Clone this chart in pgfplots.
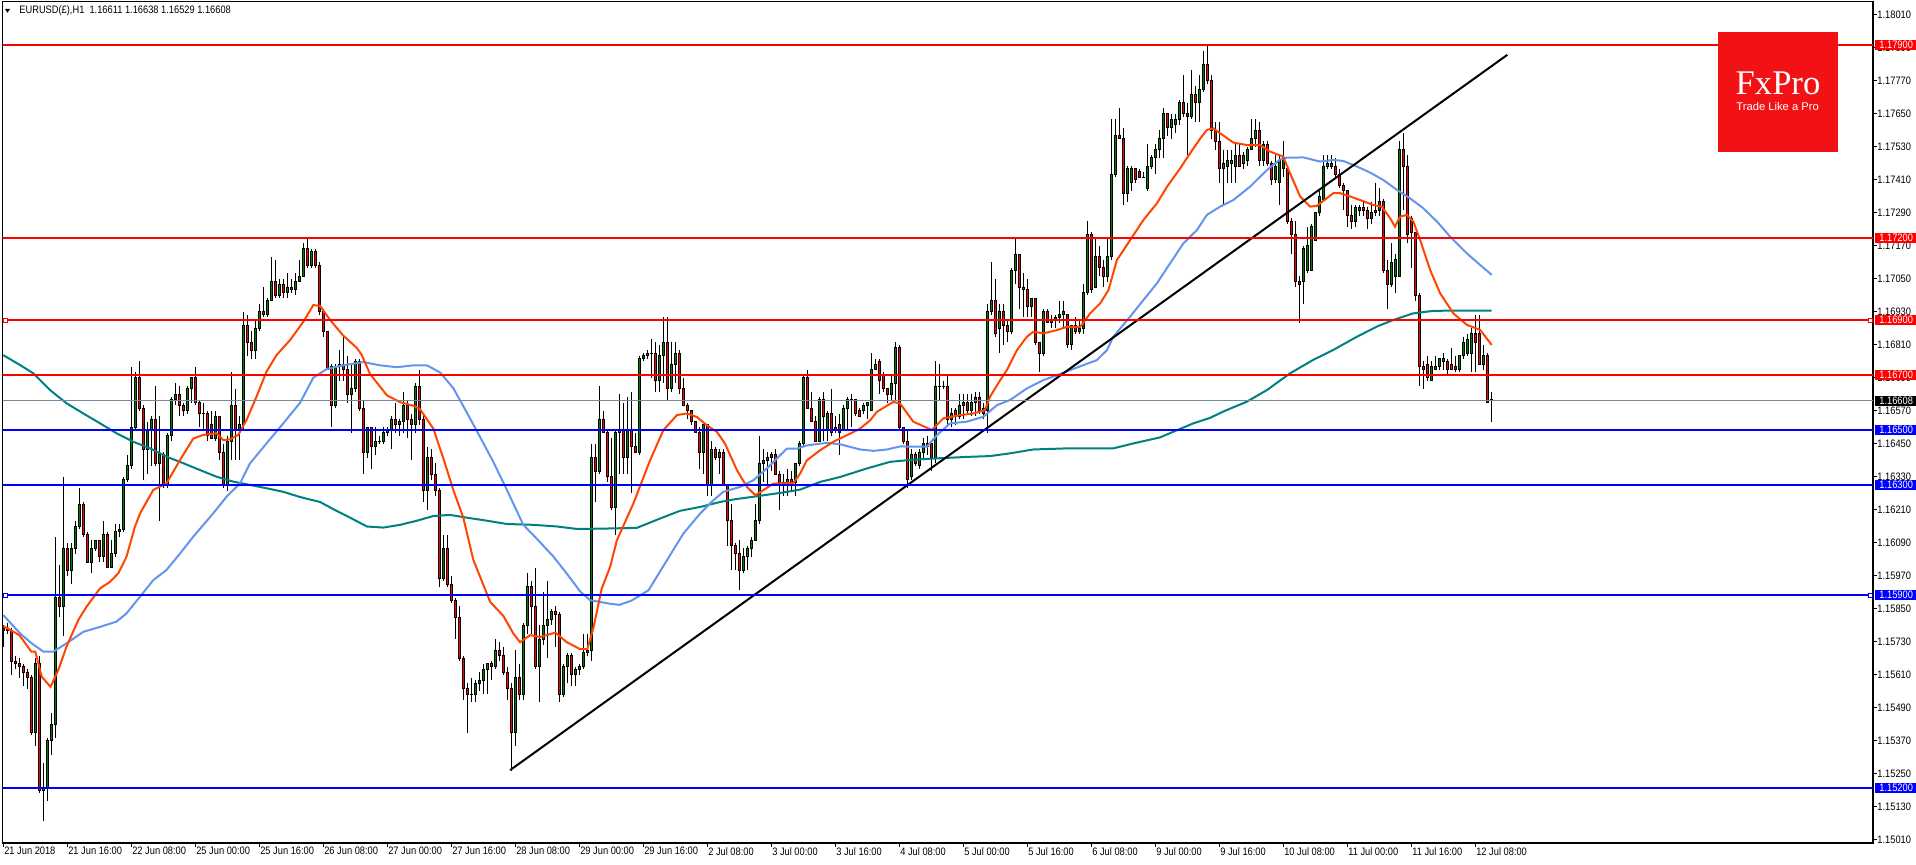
\documentclass[border=0pt]{standalone}
\usepackage{pgfplots}
\pgfplotsset{compat=1.18}
\usepackage{pgfplotstable}
\usepackage{fontspec}
\setmainfont{Liberation Sans}[FakeStretch=0.86]
\newfontfamily\logoserif{Liberation Serif}
\newfontfamily\logosans{Liberation Sans}
\newcommand\tickfont{\fontsize{5.4}{6}\selectfont}
\definecolor{maRed}{RGB}{255,69,0}
\definecolor{maBlue}{RGB}{100,149,237}
\definecolor{maTeal}{RGB}{0,128,128}
\definecolor{cGreen}{RGB}{0,128,0}
\definecolor{cRed}{RGB}{255,0,0}
\definecolor{lvlRed}{RGB}{255,0,0}
\definecolor{lvlBlue}{RGB}{0,0,255}
\definecolor{curGray}{RGB}{119,136,153}
\definecolor{fxRed}{RGB}{242,18,22}

\pgfplotstableread{
i o h l c
0 1.1577 1.1579 1.1571 1.1578
1 1.1578 1.1580 1.1576 1.1577
2 1.1577 1.1578 1.1561 1.1566
3 1.1566 1.1568 1.1563 1.1565
4 1.1565 1.1567 1.1560 1.1564
5 1.1564 1.1565 1.1557 1.1562
6 1.1562 1.1563 1.1556 1.1560
7 1.1560 1.1561 1.1539 1.1540
8 1.1540 1.1567 1.1535 1.1565
9 1.1565 1.1568 1.1518 1.1519
10 1.1519 1.1529 1.1508 1.1520
11 1.1520 1.1538 1.1515 1.1537
12 1.1537 1.1547 1.1532 1.1543
13 1.1543 1.1611 1.1538 1.1589
14 1.1589 1.1601 1.1582 1.1586
15 1.1586 1.1633 1.1575 1.1607
16 1.1607 1.1609 1.1597 1.1599
17 1.1599 1.1609 1.1594 1.1607
18 1.1607 1.1617 1.1605 1.1615
19 1.1615 1.1629 1.1614 1.1623
20 1.1623 1.1624 1.1611 1.1612
21 1.1612 1.1613 1.1602 1.1602
22 1.1602 1.1610 1.1598 1.1607
23 1.1607 1.1610 1.1606 1.1610
24 1.1610 1.1610 1.1602 1.1604
25 1.1604 1.1617 1.1602 1.1612
26 1.1612 1.1613 1.1600 1.1600
27 1.1600 1.1610 1.1600 1.1605
28 1.1605 1.1616 1.1604 1.1613
29 1.1613 1.1616 1.1611 1.1614
30 1.1614 1.1633 1.1613 1.1632
31 1.1632 1.1641 1.1631 1.1637
32 1.1637 1.1673 1.1636 1.1651
33 1.1651 1.1671 1.1650 1.1669
34 1.1669 1.1675 1.1657 1.1658
35 1.1658 1.1659 1.1632 1.1643
36 1.1643 1.1653 1.1634 1.1650
37 1.1650 1.1655 1.1637 1.1654
38 1.1654 1.1666 1.1637 1.1638
39 1.1638 1.1655 1.1617 1.1641
40 1.1641 1.1642 1.1629 1.1630
41 1.1630 1.1649 1.1629 1.1648
42 1.1648 1.1662 1.1646 1.1661
43 1.1661 1.1667 1.1659 1.1663
44 1.1663 1.1666 1.1655 1.1659
45 1.1659 1.1660 1.1655 1.1657
46 1.1657 1.1666 1.1656 1.1665
47 1.1665 1.1669 1.1660 1.1669
48 1.1669 1.1673 1.1659 1.1660
49 1.1660 1.1661 1.1651 1.1656
50 1.1656 1.1660 1.1650 1.1656
51 1.1656 1.1657 1.1646 1.1648
52 1.1652 1.1657 1.1647 1.1647
53 1.1647 1.1657 1.1646 1.1655
54 1.1655 1.1655 1.1639 1.1642
55 1.1642 1.1645 1.1629 1.1630
56 1.1630 1.1648 1.1628 1.1646
57 1.1646 1.1671 1.1639 1.1659
58 1.1659 1.1665 1.1639 1.1650
59 1.1650 1.1655 1.1639 1.1652
60 1.1652 1.1693 1.1650 1.1688
61 1.1688 1.1692 1.1677 1.1682
62 1.1682 1.1686 1.1676 1.1679
63 1.1679 1.1690 1.1676 1.1687
64 1.1687 1.1696 1.1686 1.1693
65 1.1693 1.1702 1.1691 1.1692
66 1.1692 1.1698 1.1691 1.1697
67 1.1697 1.1713 1.1697 1.1704
68 1.1704 1.1712 1.1698 1.1699
69 1.1699 1.1705 1.1698 1.1703
70 1.1703 1.1705 1.1698 1.1700
71 1.1700 1.1707 1.1698 1.1702
72 1.1702 1.1705 1.1700 1.1701
73 1.1701 1.1707 1.1699 1.1704
74 1.1704 1.1712 1.1704 1.1706
75 1.1706 1.1718 1.1706 1.1716
76 1.1716 1.1720 1.1709 1.1710
77 1.1710 1.1716 1.1709 1.1715
78 1.1715 1.1716 1.1709 1.1710
79 1.1710 1.1711 1.1692 1.1693
80 1.1693 1.1694 1.1684 1.1686
81 1.1686 1.1686 1.1672 1.1672
82 1.1673 1.1674 1.1651 1.1659
83 1.1659 1.1674 1.1658 1.1673
84 1.1673 1.1679 1.1668 1.1674
85 1.1674 1.1684 1.1668 1.1672
86 1.1672 1.1677 1.1660 1.1663
87 1.1663 1.1674 1.1649 1.1665
88 1.1665 1.1676 1.1664 1.1675
89 1.1675 1.1676 1.1657 1.1658
90 1.1658 1.1661 1.1634 1.1642
91 1.1642 1.1651 1.1640 1.1651
92 1.1651 1.1651 1.1636 1.1644
93 1.1644 1.1651 1.1641 1.1646
94 1.1646 1.1648 1.1645 1.1646
95 1.1646 1.1651 1.1645 1.1649
96 1.1649 1.1651 1.1648 1.1650
97 1.1650 1.1655 1.1643 1.1654
98 1.1654 1.1660 1.1649 1.1652
99 1.1652 1.1654 1.1648 1.1653
100 1.1653 1.1664 1.1649 1.1659
101 1.1659 1.1661 1.1647 1.1654
102 1.1654 1.1656 1.1639 1.1652
103 1.1652 1.1667 1.1649 1.1666
104 1.1666 1.1672 1.1652 1.1654
105 1.1654 1.1656 1.1624 1.1628
106 1.1628 1.1644 1.1621 1.1640
107 1.1640 1.1643 1.1632 1.1634
108 1.1634 1.1638 1.1626 1.1628
109 1.1628 1.1629 1.1593 1.1596
110 1.1596 1.1612 1.1595 1.1607
111 1.1607 1.1612 1.1593 1.1594
112 1.1594 1.1597 1.1587 1.1588
113 1.1588 1.1589 1.1574 1.1582
114 1.1582 1.1586 1.1566 1.1567
115 1.1567 1.1568 1.1552 1.1556
116 1.1556 1.1558 1.1540 1.1554
117 1.1554 1.1560 1.1551 1.1554
118 1.1554 1.1559 1.1551 1.1558
119 1.1558 1.1562 1.1555 1.1559
120 1.1559 1.1565 1.1554 1.1563
121 1.1563 1.1565 1.1554 1.1565
122 1.1565 1.1566 1.1559 1.1564
123 1.1564 1.1574 1.1563 1.1570
124 1.1570 1.1573 1.1566 1.1568
125 1.1568 1.1571 1.1561 1.1562
126 1.1562 1.1564 1.1552 1.1556
127 1.1556 1.1558 1.1526 1.1540
128 1.1540 1.1570 1.1535 1.1560
129 1.1560 1.1565 1.1552 1.1554
130 1.1554 1.1580 1.1552 1.1579
131 1.1579 1.1598 1.1576 1.1593
132 1.1593 1.1595 1.1576 1.1586
133 1.1586 1.1600 1.1563 1.1564
134 1.1564 1.1579 1.1551 1.1574
135 1.1574 1.1591 1.1572 1.1579
136 1.1579 1.1595 1.1567 1.1581
137 1.1581 1.1585 1.1579 1.1584
138 1.1584 1.1586 1.1571 1.1583
139 1.1583 1.1584 1.1551 1.1554
140 1.1554 1.1565 1.1553 1.1564
141 1.1564 1.1569 1.1558 1.1568
142 1.1568 1.1569 1.1557 1.1561
143 1.1561 1.1564 1.1557 1.1563
144 1.1563 1.1565 1.1561 1.1564
145 1.1564 1.1576 1.1563 1.1569
146 1.1569 1.1576 1.1568 1.1570
147 1.1570 1.1645 1.1566 1.1640
148 1.1640 1.1645 1.1624 1.1635
149 1.1635 1.1666 1.1634 1.1654
150 1.1654 1.1657 1.1649 1.1649
151 1.1649 1.1650 1.1631 1.1633
152 1.1633 1.1647 1.1621 1.1622
153 1.1622 1.1650 1.1612 1.1649
154 1.1649 1.1663 1.1634 1.1650
155 1.1650 1.1660 1.1634 1.1640
156 1.1640 1.1662 1.1634 1.1650
157 1.1650 1.1664 1.1627 1.1644
158 1.1644 1.1649 1.1642 1.1642
159 1.1642 1.1677 1.1641 1.1676
160 1.1676 1.1678 1.1675 1.1677
161 1.1677 1.1679 1.1676 1.1678
162 1.1678 1.1683 1.1669 1.1678
163 1.1678 1.1682 1.1664 1.1668
164 1.1668 1.1681 1.1664 1.1677
165 1.1677 1.1691 1.1667 1.1682
166 1.1682 1.1691 1.1661 1.1665
167 1.1665 1.1682 1.1664 1.1674
168 1.1674 1.1682 1.1667 1.1678
169 1.1678 1.1679 1.1663 1.1665
170 1.1665 1.1669 1.1659 1.1659
171 1.1659 1.1660 1.1654 1.1657
172 1.1657 1.1657 1.1652 1.1653
173 1.1653 1.1653 1.1649 1.1649
174 1.1649 1.1651 1.1636 1.1642
175 1.1642 1.1652 1.1634 1.1652
176 1.1652 1.1652 1.1626 1.1630
177 1.1630 1.1646 1.1626 1.1643
178 1.1643 1.1644 1.1639 1.1640
179 1.1640 1.1643 1.1634 1.1642
180 1.1642 1.1643 1.1630 1.1630
181 1.1630 1.1630 1.1608 1.1617
182 1.1617 1.1623 1.1599 1.1608
183 1.1608 1.1609 1.1599 1.1605
184 1.1605 1.1610 1.1592 1.1599
185 1.1599 1.1607 1.1598 1.1604
186 1.1604 1.1608 1.1599 1.1607
187 1.1607 1.1611 1.1604 1.1610
188 1.1610 1.1623 1.1610 1.1617
189 1.1617 1.1648 1.1616 1.1638
190 1.1638 1.1643 1.1631 1.1639
191 1.1639 1.1642 1.1629 1.1640
192 1.1640 1.1642 1.1635 1.1641
193 1.1641 1.1643 1.1634 1.1634
194 1.1634 1.1635 1.1621 1.1631
195 1.1631 1.1634 1.1626 1.1630
196 1.1630 1.1636 1.1626 1.1632
197 1.1632 1.1635 1.1628 1.1631
198 1.1631 1.1638 1.1626 1.1638
199 1.1638 1.1646 1.1637 1.1645
200 1.1645 1.1670 1.1644 1.1669
201 1.1669 1.1672 1.1658 1.1658
202 1.1658 1.1664 1.1653 1.1653
203 1.1653 1.1655 1.1646 1.1646
204 1.1646 1.1662 1.1646 1.1661
205 1.1661 1.1664 1.1646 1.1655
206 1.1650 1.1657 1.1646 1.1656
207 1.1656 1.1665 1.1648 1.1649
208 1.1651 1.1655 1.1649 1.1650
209 1.1652 1.1656 1.1641 1.1649
210 1.1650 1.1659 1.1650 1.1658
211 1.1658 1.1662 1.1650 1.1661
212 1.1661 1.1663 1.1651 1.1661
213 1.1661 1.1661 1.1655 1.1656
214 1.1657 1.1658 1.1655 1.1655
215 1.1657 1.1660 1.1656 1.1659
216 1.1659 1.1660 1.1654 1.1660
217 1.1657 1.1678 1.1657 1.1672
218 1.1672 1.1676 1.1672 1.1674
219 1.1675 1.1676 1.1663 1.1668
220 1.1670 1.1671 1.1664 1.1665
221 1.1665 1.1665 1.1660 1.1663
222 1.1663 1.1670 1.1661 1.1667
223 1.1667 1.1682 1.1661 1.1680
224 1.1680 1.1681 1.1650 1.1651
225 1.1651 1.1651 1.1645 1.1646
226 1.1646 1.1650 1.1629 1.1632
227 1.1633 1.1643 1.1632 1.1641
228 1.1641 1.1642 1.1637 1.1638
229 1.1637 1.1643 1.1636 1.1642
230 1.1642 1.1647 1.1639 1.1645
231 1.1644 1.1648 1.1641 1.1645
232 1.1645 1.1645 1.1635 1.1640
233 1.1640 1.1675 1.1638 1.1666
234 1.1666 1.1674 1.1661 1.1666
235 1.1666 1.1668 1.1665 1.1666
236 1.1666 1.1670 1.1651 1.1654
237 1.1654 1.1658 1.1651 1.1656
238 1.1657 1.1658 1.1652 1.1655
239 1.1655 1.1663 1.1654 1.1659
240 1.1659 1.1663 1.1654 1.1660
241 1.1660 1.1663 1.1656 1.1657
242 1.1657 1.1663 1.1655 1.1660
243 1.1660 1.1664 1.1655 1.1662
244 1.1662 1.1664 1.1656 1.1657
245 1.1658 1.1660 1.1654 1.1656
246 1.1657 1.1696 1.1649 1.1693
247 1.1693 1.1711 1.1692 1.1697
248 1.1697 1.1705 1.1684 1.1685
249 1.1687 1.1696 1.1678 1.1693
250 1.1693 1.1696 1.1681 1.1688
251 1.1688 1.1690 1.1682 1.1686
252 1.1686 1.1709 1.1685 1.1708
253 1.1708 1.1720 1.1703 1.1714
254 1.1714 1.1714 1.1694 1.1702
255 1.1702 1.1707 1.1691 1.1701
256 1.1701 1.1705 1.1691 1.1695
257 1.1695 1.1698 1.1691 1.1698
258 1.1698 1.1698 1.1681 1.1682
259 1.1682 1.1682 1.1671 1.1678
260 1.1678 1.1694 1.1677 1.1693
261 1.1693 1.1694 1.1689 1.1689
262 1.1689 1.1692 1.1687 1.1690
263 1.1690 1.1692 1.1687 1.1691
264 1.1691 1.1697 1.1689 1.1692
265 1.1692 1.1697 1.1687 1.1693
266 1.1692 1.1692 1.1680 1.1681
267 1.1681 1.1688 1.1679 1.1688
268 1.1688 1.1691 1.1685 1.1686
269 1.1686 1.1690 1.1685 1.1687
270 1.1687 1.1703 1.1685 1.1700
271 1.1700 1.1726 1.1699 1.1721
272 1.1721 1.1722 1.1700 1.1701
273 1.1702 1.1720 1.1702 1.1713
274 1.1713 1.1717 1.1706 1.1709
275 1.1709 1.1712 1.1702 1.1706
276 1.1706 1.1720 1.1704 1.1713
277 1.1713 1.1763 1.1712 1.1743
278 1.1743 1.1763 1.1742 1.1757
279 1.1757 1.1767 1.1756 1.1756
280 1.1756 1.1760 1.1732 1.1736
281 1.1736 1.1746 1.1733 1.1745
282 1.1740 1.1746 1.1737 1.1745
283 1.1745 1.1745 1.1740 1.1741
284 1.1744 1.1745 1.1742 1.1742
285 1.1742 1.1744 1.1742 1.1742
286 1.1738 1.1754 1.1737 1.1746
287 1.1746 1.1750 1.1745 1.1749
288 1.1749 1.1754 1.1743 1.1752
289 1.1752 1.1759 1.1749 1.1756
290 1.1756 1.1767 1.1749 1.1765
291 1.1765 1.1765 1.1757 1.1760
292 1.1760 1.1765 1.1756 1.1763
293 1.1761 1.1765 1.1758 1.1763
294 1.1763 1.1770 1.1761 1.1769
295 1.1769 1.1779 1.1764 1.1765
296 1.1765 1.1769 1.1750 1.1764
297 1.1764 1.1781 1.1763 1.1772
298 1.1772 1.1775 1.1762 1.1769
299 1.1769 1.1779 1.1762 1.1774
300 1.1774 1.1788 1.1773 1.1783
301 1.1783 1.1790 1.1776 1.1777
302 1.1777 1.1779 1.1756 1.1759
303 1.1759 1.1762 1.1752 1.1755
304 1.1755 1.1762 1.1740 1.1745
305 1.1745 1.1752 1.1732 1.1747
306 1.1746 1.1752 1.1740 1.1748
307 1.1747 1.1752 1.1740 1.1748
308 1.1746 1.1754 1.1740 1.1750
309 1.1750 1.1754 1.1746 1.1746
310 1.1747 1.1751 1.1745 1.1750
311 1.1748 1.1753 1.1746 1.1752
312 1.1752 1.1763 1.1752 1.1756
313 1.1756 1.1763 1.1753 1.1759
314 1.1759 1.1762 1.1746 1.1748
315 1.1748 1.1755 1.1746 1.1754
316 1.1754 1.1755 1.1746 1.1747
317 1.1747 1.1748 1.1739 1.1741
318 1.1741 1.1750 1.1740 1.1746
319 1.1740 1.1750 1.1732 1.1748
320 1.1745 1.1755 1.1742 1.1749
321 1.1745 1.1746 1.1725 1.1726
322 1.1726 1.1727 1.1714 1.1721
323 1.1721 1.1726 1.1702 1.1704
324 1.1704 1.1706 1.1689 1.1703
325 1.1704 1.1717 1.1696 1.1716
326 1.1708 1.1724 1.1707 1.1717
327 1.1708 1.1725 1.1708 1.1724
328 1.1719 1.1729 1.1719 1.1729
329 1.1729 1.1737 1.1728 1.1735
330 1.1734 1.1750 1.1734 1.1746
331 1.1746 1.1750 1.1745 1.1747
332 1.1746 1.1750 1.1745 1.1747
333 1.1746 1.1749 1.1742 1.1743
334 1.1743 1.1745 1.1738 1.1739
335 1.1739 1.1740 1.1730 1.1737
336 1.1737 1.1737 1.1724 1.1728
337 1.1728 1.1732 1.1723 1.1726
338 1.1726 1.1732 1.1724 1.1731
339 1.1730 1.1732 1.1728 1.1731
340 1.1731 1.1733 1.1728 1.1730
341 1.1730 1.1731 1.1723 1.1727
342 1.1727 1.1733 1.1725 1.1729
343 1.1729 1.1740 1.1728 1.1730
344 1.1730 1.1738 1.1728 1.1733
345 1.1733 1.1734 1.1707 1.1708
346 1.1708 1.1712 1.1694 1.1703
347 1.1703 1.1718 1.1702 1.1711
348 1.1706 1.1714 1.1700 1.1712
349 1.1706 1.1755 1.1706 1.1752
350 1.1752 1.1758 1.1730 1.1746
351 1.1746 1.1750 1.1718 1.1721
352 1.1727 1.1728 1.1709 1.1722
353 1.1722 1.1722 1.1697 1.1699
354 1.1699 1.1700 1.1666 1.1673
355 1.1673 1.1675 1.1665 1.1672
356 1.1674 1.1677 1.1668 1.1669
357 1.1668 1.1675 1.1668 1.1673
358 1.1672 1.1677 1.1672 1.1673
359 1.1673 1.1676 1.1672 1.1676
360 1.1675 1.1678 1.1672 1.1676
361 1.1675 1.1676 1.1670 1.1672
362 1.1674 1.1680 1.1672 1.1672
363 1.1673 1.1677 1.1671 1.1672
364 1.1672 1.1677 1.1671 1.1677
365 1.1677 1.1684 1.1676 1.1682
366 1.1678 1.1685 1.1677 1.1683
367 1.1678 1.1687 1.1671 1.1685
368 1.1685 1.1692 1.1671 1.1682
369 1.1685 1.1692 1.1674 1.1674
370 1.1674 1.1681 1.1672 1.1677
371 1.1677 1.1678 1.1660 1.1660
372 1.16611 1.16638 1.16529 1.16608
}\candles

\begin{document}
\begin{tikzpicture}
\path[use as bounding box] (0pt,0pt) rectangle (958pt,432pt);
\begin{axis}[
  at={(1.35pt,10.5pt)}, anchor=south west,
  scale only axis, width=935.15pt, height=420.75pt,
  xmin=-0.15, xmax=467.425, ymin=1.14999, ymax=1.18059,
  axis line style={line width=0.6pt},
  tick align=outside,
  major tick length=2pt,
  tick style={black, line width=0.5pt},
  xtick pos=left, ytick pos=right,
  xticklabel pos=left, yticklabel pos=right,
  scaled ticks=false,
  xtick={0,16,...,368},
  xticklabels={21 Jun 2018, 21 Jun 16:00, 22 Jun 08:00, 25 Jun 00:00, 25 Jun 16:00, 26 Jun 08:00, 27 Jun 00:00, 27 Jun 16:00, 28 Jun 08:00, 29 Jun 00:00, 29 Jun 16:00, 2 Jul 08:00, 3 Jul 00:00, 3 Jul 16:00, 4 Jul 08:00, 5 Jul 00:00, 5 Jul 16:00, 6 Jul 08:00, 9 Jul 00:00, 9 Jul 16:00, 10 Jul 08:00, 11 Jul 00:00, 11 Jul 16:00, 12 Jul 08:00},
  ytick={1.1501,1.1513,1.1525,1.1537,1.1549,1.1561,1.1573,1.1585,1.1597,1.1609,1.1621,1.1633,1.1645,1.1657,1.1669,1.1681,1.1693,1.1705,1.1717,1.1729,1.1741,1.1753,1.1765,1.1777,1.1789,1.1801},
  yticklabels={1.15010,1.15130,1.15250,1.15370,1.15490,1.15610,1.15730,1.15850,1.15970,1.16090,1.16210,1.16330,1.16450,1.16570,1.16690,1.16810,1.16930,1.17050,1.17170,1.17290,1.17410,1.17530,1.17650,1.17770,1.17890,1.18010},
  xticklabel style={anchor=north west, inner sep=0pt, font=\tickfont, xshift=0.3pt},
  yticklabel style={anchor=west, inner sep=0pt, font=\tickfont},
  candle/.style={draw=none, mark=none, forget plot, error bars/.cd, y dir=minus, y explicit, error mark=none},
]
% wicks
\addplot[candle, error bar style={draw=black, line width=0.5pt}]
  table[x=i, y=h, y error expr={\thisrow{h}-\thisrow{l}}] {\candles};
% bodies (outline)
\addplot[candle, error bar style={draw=black, line width=1.5pt}]
  table[x=i, y expr={max(\thisrow{o},\thisrow{c})+0.000018}, y error expr={abs(\thisrow{o}-\thisrow{c})+0.000036}] {\candles};
% bull fill
\addplot[candle, error bar style={draw=cGreen, line width=0.5pt}, /pgfplots/restrict y to domain=1:2]
  table[x=i, y expr={(\thisrow{c}>\thisrow{o}) ? (\thisrow{c}-0.000018) : 9}, y error expr={max(\thisrow{c}-\thisrow{o}-0.000036,0)}] {\candles};
% bear fill
\addplot[candle, error bar style={draw=cRed, line width=0.5pt}, /pgfplots/restrict y to domain=1:2]
  table[x=i, y expr={(\thisrow{c}<\thisrow{o}) ? (\thisrow{o}-0.000018) : 9}, y error expr={max(\thisrow{o}-\thisrow{c}-0.000036,0)}] {\candles};

% moving averages
\addplot[maTeal, line width=1pt] coordinates {(0,1.16773) (4.2,1.16737) (7.5,1.16707) (11.7,1.16646) (15.8,1.16598) (20,1.16561) (24.2,1.16525) (28.3,1.16489) (32.5,1.16458) (36.7,1.16434) (40.8,1.16404) (45,1.16380) (49.2,1.16355) (53.3,1.16331) (57.5,1.16313) (61.7,1.16301) (65.8,1.16289) (70,1.16276) (74.2,1.16257) (79.2,1.16239) (82.5,1.16213) (86.7,1.16182) (90.9,1.16150) (95,1.16146) (99.2,1.16156) (103.4,1.16171) (107.5,1.16188) (111.7,1.16192) (115.9,1.16182) (120.9,1.16171) (125.9,1.16159) (132.5,1.16156) (138.4,1.16150) (143.4,1.16141) (149.2,1.16142) (158.4,1.16145) (164.2,1.16179) (169.2,1.16207) (174.2,1.16221) (179.2,1.16239) (182.5,1.16248) (188.4,1.16260) (194.2,1.16272) (199.2,1.16284) (204.2,1.16312) (209.2,1.16330) (215.9,1.16361) (221.7,1.16385) (226.7,1.16392) (232.5,1.16397) (240.9,1.16403) (246.7,1.16406) (251.7,1.16416) (257.5,1.16430) (265.9,1.16434) (277.5,1.16434) (282.5,1.16452) (289.2,1.16474) (293.4,1.16500) (297.5,1.16525) (301.7,1.16545) (305,1.16568) (310.9,1.16604) (315.9,1.16646) (321.7,1.16707) (327.5,1.16756) (332.5,1.16792) (338.4,1.16840) (343.4,1.16877) (347.5,1.16901) (352.5,1.16925) (357.5,1.16934) (362.5,1.16935) (372.1,1.16935)};
\addplot[maBlue, line width=1pt] coordinates {(0,1.15828) (4.2,1.15761) (7.1,1.15725) (10,1.15695) (12.5,1.15695) (15.8,1.15725) (20,1.15767) (24.2,1.15785) (28.3,1.15804) (30.8,1.15834) (34.2,1.15895) (37.5,1.15955) (40.8,1.15992) (44.2,1.16052) (47.5,1.16113) (52.5,1.16198) (55.8,1.16258) (59.2,1.16307) (61.7,1.16380) (65.8,1.16452) (70,1.16525) (74.2,1.16600) (77.5,1.16691) (80.9,1.16723) (85,1.16736) (90,1.16748) (94.2,1.16736) (98.4,1.16729) (102.5,1.16736) (105.9,1.16736) (109.2,1.16710) (112.5,1.16653) (115.9,1.16564) (119.2,1.16475) (122.5,1.16385) (125.9,1.16283) (130,1.16156) (133.4,1.16105) (137.5,1.16041) (140.9,1.15978) (144.2,1.15914) (146.7,1.15882) (151.7,1.15869) (154,1.15865) (157,1.15880) (161.3,1.15918) (165.9,1.16027) (170,1.16124) (174.2,1.16197) (177.5,1.16245) (180,1.16276) (184.2,1.16294) (187.5,1.16318) (190.9,1.16361) (194.2,1.16409) (195.9,1.16433) (198.4,1.16433) (200.9,1.16445) (205.9,1.16454) (209.2,1.16449) (214.2,1.16430) (217.5,1.16425) (220.9,1.16430) (224.2,1.16441) (230.9,1.16440) (233.4,1.16482) (236.7,1.16525) (240.9,1.16531) (245,1.16549) (248.4,1.16591) (251.7,1.16610) (255.9,1.16652) (260,1.16682) (263.4,1.16700) (268.4,1.16728) (273.4,1.16755) (275.9,1.16791) (277.5,1.16840) (281.7,1.16913) (285,1.16973) (288.4,1.17034) (291.7,1.17107) (295,1.17179) (298.4,1.17228) (300.9,1.17283) (304.2,1.17313) (307.5,1.17337) (311.7,1.17386) (315.9,1.17446) (319.2,1.17485) (320.9,1.17491) (325,1.17492) (327.5,1.17483) (329.2,1.17477) (332.5,1.17483) (335,1.17479) (338.4,1.17459) (341.7,1.17437) (345,1.17410) (348.4,1.17374) (351.7,1.17343) (355,1.17307) (358.4,1.17259) (361.7,1.17204) (365.9,1.17143) (369.2,1.17101) (372.1,1.17065)};
\addplot[maRed, line width=1pt] coordinates {(0,1.15788) (4,1.15755) (7,1.15695) (8,1.15695) (9.6,1.15604) (11.8,1.15567) (13.75,1.15628) (15.8,1.15713) (18.75,1.15810) (20.8,1.15858) (24.2,1.15925) (26.7,1.15949) (28.75,1.15980) (30.8,1.16040) (32.9,1.16149) (34.2,1.16198) (37.5,1.16283) (40.8,1.16307) (44.2,1.16392) (47.5,1.16470) (50,1.16483) (53.3,1.16489) (55,1.16464) (56.7,1.16467) (58.75,1.16483) (60.8,1.16537) (63.3,1.16622) (65.8,1.16713) (68.3,1.16773) (71.7,1.16828) (75,1.16894) (77.5,1.16955) (79.2,1.16952) (81.7,1.16901) (85,1.16844) (88.4,1.16799) (89.6,1.16774) (91.7,1.16704) (95.9,1.16627) (99.2,1.16602) (102.5,1.16589) (104.2,1.16576) (107.5,1.16506) (110,1.16398) (112.5,1.16283) (115,1.16182) (117.5,1.16029) (121.7,1.15876) (125,1.15825) (127.5,1.15761) (129.2,1.15729) (131.7,1.15755) (134.2,1.15748) (138,1.15764) (140.9,1.15729) (144.2,1.15704) (146,1.15704) (147.5,1.15780) (149.6,1.15924) (151.7,1.16003) (153.4,1.16100) (157.5,1.16233) (161.7,1.16391) (165,1.16500) (168.4,1.16555) (170.9,1.16561) (173.4,1.16548) (175.9,1.16518) (178.4,1.16494) (180.4,1.16452) (183.4,1.16355) (185.9,1.16294) (188,1.16264) (190,1.16282) (192.5,1.16306) (197.5,1.16308) (199.2,1.16342) (200.9,1.16391) (204.2,1.16427) (207.5,1.16458) (210.9,1.16482) (214.2,1.16506) (216.7,1.16536) (218.4,1.16567) (222.5,1.16603) (224.2,1.16597) (227.5,1.16531) (232.1,1.16501) (235,1.16543) (239.2,1.16555) (242.5,1.16561) (245.4,1.16573) (246.7,1.16622) (249.2,1.16682) (250.9,1.16719) (253.4,1.16791) (255.9,1.16840) (257.5,1.16858) (260,1.16852) (263.4,1.16864) (265.9,1.16876) (269.2,1.16876) (271.7,1.16925) (274.2,1.16961) (276.3,1.17010) (278.4,1.17119) (281.7,1.17191) (285,1.17264) (288.4,1.17325) (290.9,1.17385) (294.2,1.17452) (296.7,1.17507) (299.2,1.17560) (300.9,1.17592) (302.5,1.17598) (304.2,1.17580) (307.5,1.17546) (310.9,1.17537) (314.2,1.17537) (316.7,1.17513) (320,1.17495) (321.7,1.17434) (324.2,1.17350) (326.7,1.17313) (328.4,1.17316) (330.9,1.17344) (332.5,1.17362) (334.2,1.17362) (336.7,1.17350) (339.2,1.17337) (342.5,1.17319) (344.6,1.17313) (346.7,1.17271) (347.9,1.17240) (349.2,1.17277) (350.9,1.17283) (352.5,1.17259) (354.2,1.17192) (356.7,1.17083) (359.2,1.16998) (362.5,1.16925) (365.9,1.16883) (369.2,1.16865) (372.1,1.16810)};

% trend line
\addplot[black, line width=1pt] coordinates {(126.7,1.15264) (376,1.17865)};

% horizontal levels
\addplot[curGray, line width=0.5pt] coordinates {(-1,1.16608) (470,1.16608)};
\addplot[lvlRed, line width=1pt] coordinates {(-1,1.179) (470,1.179)};
\addplot[lvlRed, line width=1pt] coordinates {(-1,1.172) (470,1.172)};
\addplot[lvlRed, line width=1pt] coordinates {(-1,1.169) (470,1.169)};
\addplot[lvlRed, line width=1pt] coordinates {(-1,1.167) (470,1.167)};
\addplot[lvlBlue, line width=1pt] coordinates {(-1,1.165) (470,1.165)};
\addplot[lvlBlue, line width=1pt] coordinates {(-1,1.163) (470,1.163)};
\addplot[lvlBlue, line width=1pt] coordinates {(-1,1.159) (470,1.159)};
\addplot[lvlBlue, line width=1pt] coordinates {(-1,1.152) (470,1.152)};
\addplot[only marks, mark=square*, mark size=1pt, lvlRed, mark options={fill=white, line width=0.5pt}] coordinates {(0.5,1.169) (466.7,1.169)};
\addplot[only marks, mark=square*, mark size=1pt, lvlBlue, mark options={fill=white, line width=0.5pt}] coordinates {(0.5,1.159) (466.7,1.159)};

\coordinate (Ra) at (axis cs:467.425,1.179);
\coordinate (Rb) at (axis cs:467.425,1.172);
\coordinate (Rc) at (axis cs:467.425,1.169);
\coordinate (Rd) at (axis cs:467.425,1.167);
\coordinate (Re) at (axis cs:467.425,1.16608);
\coordinate (Rf) at (axis cs:467.425,1.165);
\coordinate (Rg) at (axis cs:467.425,1.163);
\coordinate (Rh) at (axis cs:467.425,1.159);
\coordinate (Ri) at (axis cs:467.425,1.152);
\end{axis}

\tikzset{pl/.style={anchor=west, text=white, inner xsep=2pt, inner ysep=0pt, minimum height=5pt, font=\tickfont}}
\node[pl, fill=lvlRed] at ([xshift=1pt]Ra) {1.17900};
\node[pl, fill=lvlRed] at ([xshift=1pt]Rb) {1.17200};
\node[pl, fill=lvlRed] at ([xshift=1pt]Rc) {1.16900};
\node[pl, fill=lvlRed] at ([xshift=1pt]Rd) {1.16700};
\node[pl, fill=black] at ([xshift=1pt]Re) {1.16608};
\node[pl, fill=lvlBlue] at ([xshift=1pt]Rf) {1.16500};
\node[pl, fill=lvlBlue] at ([xshift=1pt]Rg) {1.16300};
\node[pl, fill=lvlBlue] at ([xshift=1pt]Rh) {1.15900};
\node[pl, fill=lvlBlue] at ([xshift=1pt]Ri) {1.15200};

% title
\fill (2.5pt,427.5pt) -- (5pt,427.5pt) -- (3.75pt,425.65pt) -- cycle;
\node[anchor=base west, inner sep=0pt, font=\tickfont] at (9.5pt,425.35pt) {EURUSD(£),H1\ \ 1.16611 1.16638 1.16529 1.16608};

% logo
\fill[fxRed] (859pt,356.15pt) rectangle (919pt,416.15pt);
\node[anchor=base, inner sep=0pt, text=white, font=\logoserif\fontsize{17.3}{18}\selectfont] at (889pt,384.5pt) {FxPro};
\node[anchor=base, inner sep=0pt, text=white, font=\logosans\fontsize{5.6}{6}\selectfont] at (888.8pt,376.65pt) {Trade Like a Pro};
\end{tikzpicture}
\end{document}
